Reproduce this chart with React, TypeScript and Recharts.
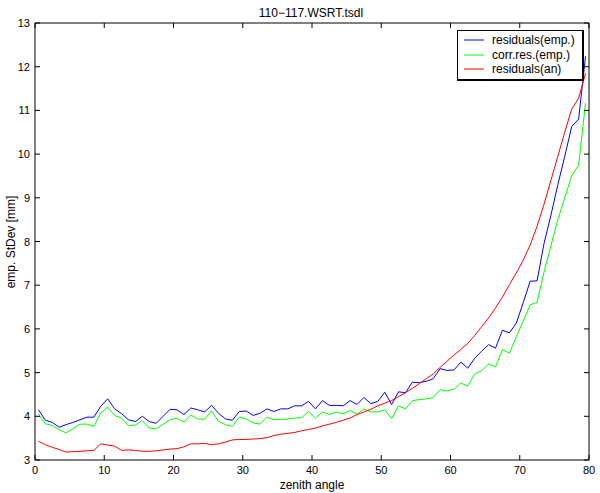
import React from 'react';
import {
  LineChart,
  Line,
  XAxis,
  YAxis,
  Legend,
  Customized,
} from 'recharts';

// zenith angle bins (bin centres)
const angles = [
  0.5, 1.5, 2.5, 3.5, 4.5, 5.5, 6.5, 7.5, 8.5, 9.5,
  10.5, 11.5, 12.5, 13.5, 14.5, 15.5, 16.5, 17.5, 18.5, 19.5,
  20.5, 21.5, 22.5, 23.5, 24.5, 25.5, 26.5, 27.5, 28.5, 29.5,
  30.5, 31.5, 32.5, 33.5, 34.5, 35.5, 36.5, 37.5, 38.5, 39.5,
  40.5, 41.5, 42.5, 43.5, 44.5, 45.5, 46.5, 47.5, 48.5, 49.5,
  50.5, 51.5, 52.5, 53.5, 54.5, 55.5, 56.5, 57.5, 58.5, 59.5,
  60.5, 61.5, 62.5, 63.5, 64.5, 65.5, 66.5, 67.5, 68.5, 69.5,
  70.5, 71.5, 72.5, 73.5, 74.5, 75.5, 76.5, 77.5, 78.5, 79.5,
];

const residualsEmp = [
  4.15, 3.91, 3.86, 3.75, 3.81, 3.86, 3.92, 3.98, 3.98, 4.23,
  4.4, 4.17, 4.06, 3.92, 3.88, 4.0, 3.88, 3.84, 4.0, 4.16,
  4.15, 4.04, 4.19, 4.15, 4.1, 4.25, 4.07, 3.94, 3.91, 4.11,
  4.12, 4.02, 4.07, 4.17, 4.11, 4.17, 4.17, 4.24, 4.24, 4.34,
  4.17, 4.36, 4.25, 4.25, 4.24, 4.36, 4.27, 4.43, 4.29, 4.34,
  4.55, 4.27, 4.56, 4.54, 4.78, 4.77, 4.8, 4.86, 5.09, 5.05,
  5.06, 5.24, 5.1, 5.33, 5.49, 5.64, 5.56, 5.97, 5.91, 6.13,
  6.6, 7.09, 7.1, 7.95, 8.6, 9.3, 9.95, 10.63, 10.8, 12.24,
];

const corrResEmp = [
  4.05, 3.83, 3.79, 3.69, 3.62, 3.72, 3.82, 3.82, 3.77, 4.08,
  4.21, 4.02, 3.96, 3.78, 3.8, 3.9, 3.73, 3.71, 3.82, 3.92,
  3.96, 3.87, 4.03, 3.94, 3.93, 4.13, 3.88, 3.81, 3.77, 3.98,
  3.94, 3.85, 3.82, 3.98, 3.92, 3.93, 3.94, 3.96, 3.97, 4.11,
  3.96, 4.1, 4.04, 4.1, 4.06, 4.13, 4.05, 4.17, 4.1, 4.1,
  4.15, 3.95, 4.24, 4.17, 4.36, 4.38, 4.4, 4.43, 4.61, 4.58,
  4.62, 4.76, 4.69, 4.97, 5.04, 5.2, 5.13, 5.53, 5.44, 5.82,
  6.18, 6.55, 6.61, 7.3, 7.9, 8.5, 9.0, 9.5, 9.75, 11.17,
];

const residualsAn = [
  3.43, 3.35, 3.29, 3.24, 3.18, 3.19, 3.2, 3.21, 3.22, 3.37,
  3.34, 3.32, 3.22, 3.23, 3.22, 3.2, 3.2, 3.21, 3.23, 3.25,
  3.26, 3.3, 3.37, 3.37, 3.38, 3.35, 3.37, 3.41, 3.46, 3.47,
  3.47, 3.48, 3.49, 3.51, 3.56, 3.59, 3.61, 3.63, 3.67, 3.7,
  3.73, 3.78, 3.82, 3.86, 3.91, 3.96, 4.04, 4.1, 4.16, 4.24,
  4.3, 4.36, 4.45, 4.54, 4.64, 4.75, 4.86, 4.97, 5.12, 5.26,
  5.4, 5.53, 5.67, 5.85, 6.05, 6.25, 6.48, 6.73, 7.01, 7.28,
  7.57, 7.92, 8.35, 8.85, 9.4, 9.95, 10.5, 11.03, 11.28, 11.85,
];

const xTicks = [0, 10, 20, 30, 40, 50, 60, 70, 80];
const yTicks = [3, 4, 5, 6, 7, 8, 9, 10, 11, 12, 13];

const FONT = '"Liberation Sans", Arial, sans-serif';

// the analytic curve sits on the top/right axis pair (same domains) so the frame gets drawn
const series = [
  { key: 'emp', name: 'residuals(emp.)', color: '#0000ff', xId: 0, yId: 0 },
  { key: 'corr', name: 'corr.res.(emp.)', color: '#00ff00', xId: 0, yId: 0 },
  { key: 'an', name: 'residuals(an)', color: '#ff0000', xId: 'top', yId: 'right' },
];

const data = angles.map((angle, i) => ({
  angle,
  emp: residualsEmp[i],
  corr: corrResEmp[i],
  an: residualsAn[i],
}));

// matlab style ticks: pointing into the plot
const BottomTick = ({ x, y, payload }: any) => (
  <g>
    <line x1={x} x2={x} y1={y} y2={y - 5} stroke="#000" />
    <text x={x} y={y + 14} textAnchor="middle" fontSize={11} fontFamily={FONT} fill="#000">
      {payload.value}
    </text>
  </g>
);

const TopTick = ({ x, y }: any) => (
  <line x1={x} x2={x} y1={y} y2={y + 5} stroke="#000" />
);

const LeftTick = ({ x, y, payload }: any) => (
  <g>
    <line x1={x} x2={x + 5} y1={y} y2={y} stroke="#000" />
    <text x={x - 5} y={y + 4} textAnchor="end" fontSize={11} fontFamily={FONT} fill="#000">
      {payload.value}
    </text>
  </g>
);

const RightTick = ({ x, y }: any) => (
  <line x1={x} x2={x - 5} y1={y} y2={y} stroke="#000" />
);

const LegendBox = () => (
  <div
    style={{
      background: '#fff',
      border: '1px solid #000',
      borderRightWidth: 2,
      borderBottomWidth: 2,
      padding: '2px 6px 2px 6px',
      fontFamily: FONT,
      fontSize: 12,
      lineHeight: '14.5px',
      width: 112,
    }}
  >
    {series.map((s) => (
      <div key={s.key} style={{ display: 'flex', alignItems: 'center', whiteSpace: 'nowrap' }}>
        <svg width={20} height={10} style={{ marginRight: 8 }}>
          <line x1={0} x2={20} y1={5} y2={5} stroke={s.color} />
        </svg>
        <span>{s.name}</span>
      </div>
    ))}
  </div>
);

const Labels = () => (
  <g fontFamily={FONT} fontSize={12} fill="#000">
    <text x={311} y={17} textAnchor="middle">110−117.WSRT.tsdl</text>
    <text x={312} y={489} textAnchor="middle">zenith angle</text>
    <text x={15} y={242} textAnchor="middle" transform="rotate(-90 15 242)">
      emp. StDev [mm]
    </text>
  </g>
);

export default function App() {
  return (
    <div style={{ position: 'absolute', left: 0, top: 0, background: '#fff' }}>
      <LineChart
        width={600}
        height={493}
        data={data}
        margin={{ top: 22, right: 10, bottom: 0, left: 0 }}
        style={{ fontFamily: FONT }}
      >
        <XAxis
          dataKey="angle"
          type="number"
          domain={[0, 80]}
          ticks={xTicks}
          interval={0}
          height={33}
          tickSize={0}
          tickMargin={0}
          tick={<BottomTick />}
          axisLine={{ stroke: '#000' }}
        />
        <XAxis
          xAxisId="top"
          dataKey="angle"
          orientation="top"
          type="number"
          domain={[0, 80]}
          ticks={xTicks}
          interval={0}
          height={1}
          tickSize={0}
          tickMargin={0}
          tick={<TopTick />}
          axisLine={{ stroke: '#000' }}
        />
        <YAxis
          type="number"
          domain={[3, 13]}
          ticks={yTicks}
          interval={0}
          width={35}
          tickSize={0}
          tickMargin={0}
          tick={<LeftTick />}
          axisLine={{ stroke: '#000' }}
        />
        <YAxis
          yAxisId="right"
          orientation="right"
          type="number"
          domain={[3, 13]}
          ticks={yTicks}
          interval={0}
          width={1}
          tickSize={0}
          tickMargin={0}
          tick={<RightTick />}
          axisLine={{ stroke: '#000' }}
        />
        {series.map((s) => (
          <Line
            key={s.key}
            xAxisId={s.xId}
            yAxisId={s.yId}
            type="linear"
            dataKey={s.key}
            name={s.name}
            stroke={s.color}
            strokeWidth={1}
            dot={false}
            activeDot={false}
            isAnimationActive={false}
          />
        ))}
        <Legend
          layout="vertical"
          align="center"
          verticalAlign="middle"
          content={<LegendBox />}
          wrapperStyle={{ left: 457, top: 30, width: 126 }}
        />
        <Customized component={<Labels />} />
      </LineChart>
    </div>
  );
}
